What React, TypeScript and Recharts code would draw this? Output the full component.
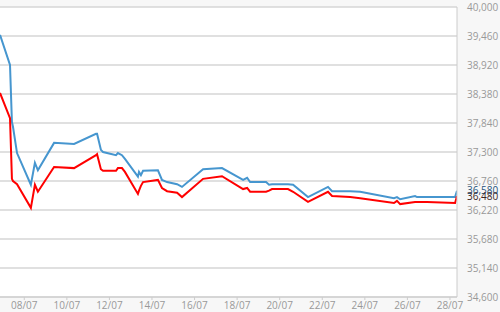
import React from "react";
import { LineChart, Line, XAxis, YAxis, CartesianGrid, LabelList } from "recharts";

// time in days of July (fractional)
const times = [6.86, 7.33, 7.42, 7.47, 7.66, 8.31, 8.5, 8.64, 9.4, 10.34, 11.37, 11.42, 11.6, 11.7, 12.31, 12.4, 12.59, 12.73, 13.34, 13.39, 13.48, 13.58, 14.28, 14.47, 14.71, 15.18, 15.41, 16.4, 17.29, 18.28, 18.47, 18.61, 19.36, 19.5, 19.64, 20.39, 20.63, 21.33, 22.27, 22.46, 23.31, 23.78, 25.37, 25.51, 25.66, 26.36, 26.45, 26.92, 28.24, 28.33];

const blueValues = [39480, 38920, 37860, 37770, 37280, 36690, 37100, 36960, 37470, 37450, 37640, 37640, 37340, 37300, 37240, 37280, 37240, 37170, 36840, 36930, 36870, 36950, 36960, 36780, 36740, 36700, 36650, 36980, 37000, 36780, 36820, 36740, 36740, 36690, 36700, 36700, 36690, 36460, 36650, 36570, 36570, 36560, 36440, 36460, 36420, 36480, 36460, 36460, 36460, 36580];

const redValues = [38400, 37930, 36800, 36760, 36700, 36260, 36690, 36560, 37020, 37000, 37240, 37260, 36980, 36950, 36950, 37000, 37000, 36930, 36520, 36580, 36670, 36740, 36780, 36630, 36570, 36540, 36460, 36800, 36850, 36610, 36630, 36560, 36560, 36580, 36610, 36610, 36560, 36370, 36560, 36480, 36460, 36440, 36350, 36390, 36330, 36370, 36370, 36370, 36350, 36480];

const xTicks = [8, 10, 12, 14, 16, 18, 20, 22, 24, 26, 28];
const yTicks = [34600, 35140, 35680, 36220, 36760, 37300, 37840, 38380, 38920, 39460, 40000];
const xDomain = [6.86, 28.33];
const yDomain = [34600, 40000];

const data = times.map((t, i) => ({ t, blue: blueValues[i], red: redValues[i] }));

const fmt = (v: number) => v.toLocaleString("en-US");
const fmtDay = (d: number) => `${String(Math.round(d)).padStart(2, "0")}/07`;

const FONT = "'Open Sans', 'DejaVu Sans', sans-serif";

const lastLabel = (color: string) => (props: any) => {
  const { x, y, index, value } = props;
  if (index !== data.length - 1) return null;
  return (
    <text x={x + 10} y={y} dy="0.35em" fill={color} fontSize={10} fontFamily={FONT} textAnchor="start">
      {fmt(value)}
    </text>
  );
};

export default function App() {
  return (
    <div style={{ position: "absolute", left: 0, top: 0, width: 500, height: 312, background: "#f7f7f7" }}>
      <LineChart width={500} height={312} data={data} margin={{ top: 7, right: 0, bottom: 0, left: 0 }}>
        <CartesianGrid vertical={false} horizontalPoints={undefined} stroke="#d6d6d6" strokeWidth={1.5} fill="#ffffff" />
        <XAxis
          dataKey="t"
          type="number"
          domain={xDomain}
          ticks={xTicks}
          tickFormatter={fmtDay}
          height={15}
          tickSize={3}
          tickMargin={2}
          tick={{ fill: "#999999", fontSize: 10, fontFamily: FONT }}
          tickLine={{ stroke: "#cccccc" }}
          axisLine={{ stroke: "#cccccc" }}
          allowDataOverflow
        />
        <YAxis
          orientation="right"
          type="number"
          domain={yDomain}
          ticks={yTicks}
          tickFormatter={fmt}
          width={43}
          tickSize={6}
          tickMargin={4}
          tickLine={false}
          axisLine={{ stroke: "#cccccc" }}
          tick={{ fill: "#999999", fontSize: 10, fontFamily: FONT }}
          allowDataOverflow
        />
        <Line dataKey="blue" type="linear" stroke="#4696cf" strokeWidth={2} dot={false} isAnimationActive={false}>
          <LabelList dataKey="blue" content={lastLabel("#24527a")} />
        </Line>
        <Line dataKey="red" type="linear" stroke="#ff0000" strokeWidth={2} dot={false} isAnimationActive={false}>
          <LabelList dataKey="red" content={lastLabel("#3a2626")} />
        </Line>
      </LineChart>
    </div>
  );
}
